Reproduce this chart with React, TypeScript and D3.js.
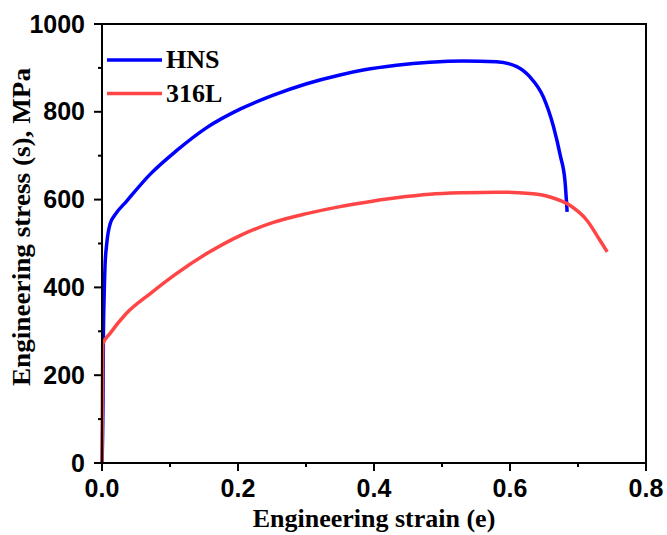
import React from "react";
import * as d3 from "d3";

// Tensile curves: engineering strain vs engineering stress (MPa)
const hnsStrain = [0, 0.0015, 0.002, 0.003, 0.0044, 0.007, 0.012, 0.019, 0.036, 0.071, 0.11, 0.154, 0.203, 0.252, 0.301, 0.35, 0.384, 0.433, 0.482, 0.531, 0.58, 0.61, 0.629, 0.649, 0.664, 0.674, 0.681, 0.684];
const hnsStress = [0, 150, 280, 371, 447, 500, 545, 565, 596, 658, 712, 764, 806, 838, 864, 884, 895, 906, 913, 916, 914, 903, 880, 834, 766, 700, 640, 572];

const l316Strain = [0, 0.001, 0.0118, 0.036, 0.071, 0.11, 0.154, 0.203, 0.252, 0.301, 0.35, 0.384, 0.433, 0.482, 0.531, 0.58, 0.629, 0.659, 0.688, 0.713, 0.732, 0.743];
const l316Stress = [0, 270, 295, 341, 386, 432, 477, 518, 548, 568, 584, 593, 604, 612, 615.5, 617, 614, 606, 587, 553, 508, 481];

const seriesNames = ["HNS", "316L"];
const seriesColors = ["#0000ff", "#ff4545"];

const xMajorTicks = [0, 0.2, 0.4, 0.6, 0.8];
const xMinorTicks = [0.1, 0.3, 0.5, 0.7];
const yMajorTicks = [0, 200, 400, 600, 800, 1000];
const yMinorTicks = [100, 300, 500, 700, 900];

const xTitle = "Engineering strain (e)";
const yTitle = "Engineering stress (s), MPa";

const W = 667;
const H = 535;
const M = { left: 102, right: 646, top: 24, bottom: 463 };

export default function App() {
  const x = d3.scaleLinear().domain([0, 0.8]).range([M.left, M.right]);
  const y = d3.scaleLinear().domain([0, 1000]).range([M.bottom, M.top]);

  const line = d3
    .line<[number, number]>()
    .x((d) => x(d[0]))
    .y((d) => y(d[1]))
    .curve(d3.curveMonotoneX);

  const series = [
    hnsStrain.map((s, i) => [s, hnsStress[i]] as [number, number]),
    l316Strain.map((s, i) => [s, l316Stress[i]] as [number, number]),
  ];

  const tickFont = "'Liberation Sans', Arial, sans-serif";
  const titleFont = "'Liberation Serif', 'Times New Roman', serif";

  return (
    <div style={{ position: "absolute", left: 0, top: 0 }}>
      <svg width={W} height={H} style={{ display: "block", background: "#fff" }}>
        <rect x={0} y={0} width={W} height={H} fill="#fff" />

        {/* curves */}
        {series.map((pts, i) => (
          <path
            key={seriesNames[i]}
            d={line(pts) || ""}
            fill="none"
            stroke={seriesColors[i]}
            strokeWidth={3.5}
            strokeLinejoin="round"
          />
        ))}

        {/* frame */}
        <rect
          x={M.left}
          y={M.top}
          width={M.right - M.left}
          height={M.bottom - M.top}
          fill="none"
          stroke="#000"
          strokeWidth={2}
        />

        {/* x ticks */}
        {xMajorTicks.map((t) => (
          <g key={"xM" + t}>
            <line x1={x(t)} x2={x(t)} y1={M.bottom} y2={M.bottom + 8} stroke="#000" strokeWidth={2} />
            <text
              x={x(t)}
              y={M.bottom + 34}
              textAnchor="middle"
              fontFamily={tickFont}
              fontWeight="bold"
              fontSize={25}
            >
              {d3.format(".1f")(t)}
            </text>
          </g>
        ))}
        {xMinorTicks.map((t) => (
          <line key={"xm" + t} x1={x(t)} x2={x(t)} y1={M.bottom} y2={M.bottom + 4} stroke="#000" strokeWidth={2} />
        ))}

        {/* y ticks */}
        {yMajorTicks.map((t) => (
          <g key={"yM" + t}>
            <line x1={M.left - 8} x2={M.left} y1={y(t)} y2={y(t)} stroke="#000" strokeWidth={2} />
            <text
              x={M.left - 17}
              y={y(t) + 8.5}
              textAnchor="end"
              fontFamily={tickFont}
              fontWeight="bold"
              fontSize={25}
            >
              {t}
            </text>
          </g>
        ))}
        {yMinorTicks.map((t) => (
          <line key={"ym" + t} x1={M.left - 4} x2={M.left} y1={y(t)} y2={y(t)} stroke="#000" strokeWidth={2} />
        ))}

        {/* axis titles */}
        <text
          x={(M.left + M.right) / 2}
          y={527}
          textAnchor="middle"
          fontFamily={titleFont}
          fontWeight="bold"
          fontSize={26}
        >
          {xTitle}
        </text>
        <text
          transform={`translate(30, 227) rotate(-90)`}
          textAnchor="middle"
          fontFamily={titleFont}
          fontWeight="bold"
          fontSize={26}
          textLength={318}
          lengthAdjust="spacingAndGlyphs"
        >
          {yTitle}
        </text>

        {/* legend */}
        {seriesNames.map((name, i) => (
          <g key={"lg" + name} transform={`translate(0, ${i * 33.5})`}>
            <line x1={107} x2={162} y1={60} y2={60} stroke={seriesColors[i]} strokeWidth={3.5} />
            <text x={166} y={68} fontFamily={titleFont} fontWeight="bold" fontSize={26}>
              {name}
            </text>
          </g>
        ))}
      </svg>
    </div>
  );
}
